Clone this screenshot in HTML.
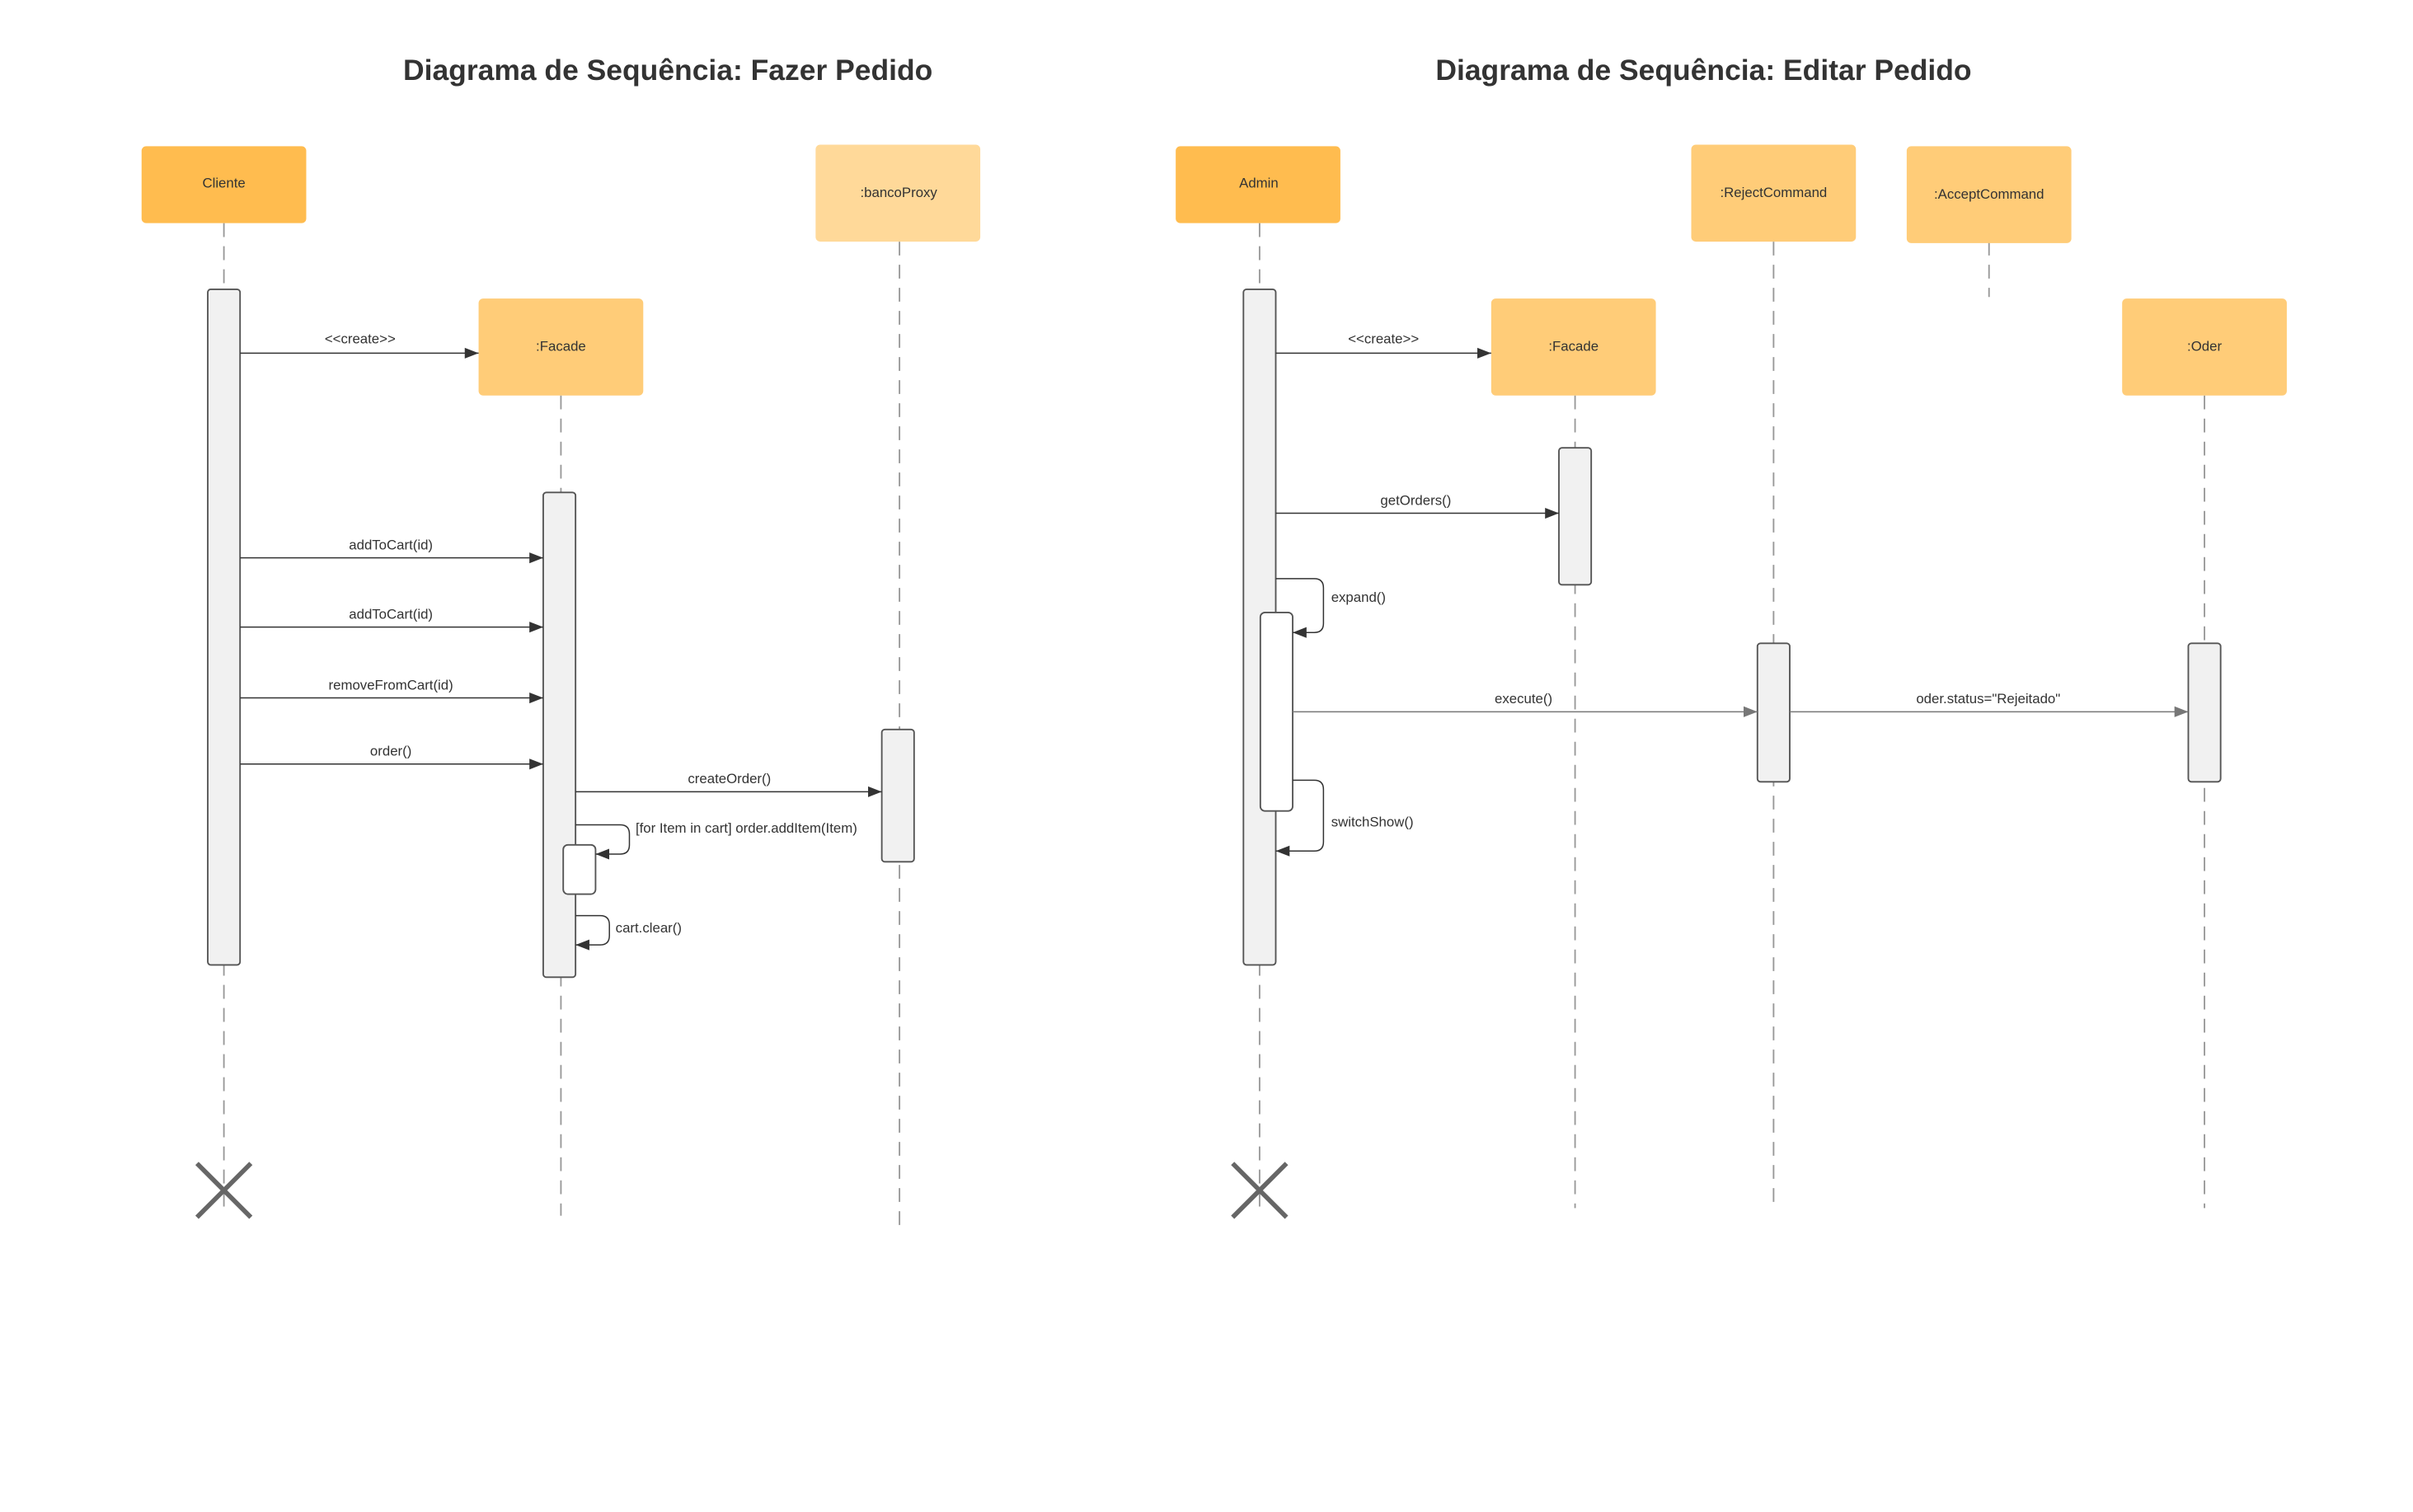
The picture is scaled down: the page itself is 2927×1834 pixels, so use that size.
<!DOCTYPE html>
<html><head><meta charset="utf-8"><style>
html,body{margin:0;padding:0;background:#fff;}
svg{display:block;}
text{font-family:"Liberation Sans",sans-serif;fill:#333;}
</style></head><body>
<svg width="2927" height="1834" viewBox="0 0 1568 982.5" preserveAspectRatio="none" xmlns="http://www.w3.org/2000/svg">
<defs>
<marker id="a" markerWidth="10" markerHeight="8" refX="9" refY="4" orient="auto" markerUnits="userSpaceOnUse"><path d="M0,0.5 L9,4 L0,7.5z" fill="#333"/></marker>
<marker id="g" markerWidth="10" markerHeight="8" refX="9" refY="4" orient="auto" markerUnits="userSpaceOnUse"><path d="M0,0.5 L9,4 L0,7.5z" fill="#777"/></marker>
</defs>
<rect width="1568" height="982.5" fill="#fff"/>
<text x="434" y="52" font-size="19" font-weight="bold" text-anchor="middle">Diagrama de Sequência: Fazer Pedido</text>
<text x="1107" y="52" font-size="19" font-weight="bold" text-anchor="middle">Diagrama de Sequência: Editar Pedido</text>

<g stroke="#999" stroke-width="1" stroke-dasharray="9,6" fill="none">
<line x1="145.5" y1="145" x2="145.5" y2="790"/>
<line x1="364.5" y1="257" x2="364.5" y2="790"/>
<line x1="584.5" y1="157" x2="584.5" y2="797"/>
<line x1="818.5" y1="145" x2="818.5" y2="790"/>
<line x1="1023.5" y1="257" x2="1023.5" y2="785"/>
<line x1="1152.5" y1="157" x2="1152.5" y2="785"/>
<line x1="1292.5" y1="157" x2="1292.5" y2="193"/>
<line x1="1432.5" y1="257" x2="1432.5" y2="785"/>
</g>

<g font-size="9" text-anchor="middle">
<rect x="92" y="95" width="107" height="50" rx="3" fill="#FFBC4F"/><text x="145.5" y="122">Cliente</text>
<rect x="530" y="94" width="107" height="63" rx="3" fill="#FFD999"/><text x="584" y="128">:bancoProxy</text>
<rect x="311" y="194" width="107" height="63" rx="3" fill="#FFCC78"/><text x="364.5" y="228">:Facade</text>
<rect x="764" y="95" width="107" height="50" rx="3" fill="#FFBC4F"/><text x="818" y="122">Admin</text>
<rect x="1099" y="94" width="107" height="63" rx="3" fill="#FFCC78"/><text x="1152.5" y="128">:RejectCommand</text>
<rect x="1239" y="95" width="107" height="63" rx="3" fill="#FFCC78"/><text x="1292.5" y="129">:AcceptCommand</text>
<rect x="969" y="194" width="107" height="63" rx="3" fill="#FFCC78"/><text x="1022.5" y="228">:Facade</text>
<rect x="1379" y="194" width="107" height="63" rx="3" fill="#FFCC78"/><text x="1432.5" y="228">:Oder</text>
</g>

<g stroke="#555" stroke-width="1" fill="#f1f1f1">
<rect x="135" y="188" width="21" height="439" rx="2"/>
<rect x="353" y="320" width="21" height="315" rx="2"/>
<rect x="573" y="474" width="21" height="86" rx="2"/>
<rect x="366" y="549" width="21" height="32" rx="3" fill="#fff"/>
<rect x="808" y="188" width="21" height="439" rx="2"/>
<rect x="819" y="398" width="21" height="129" rx="3" fill="#fff"/>
<rect x="1013" y="291" width="21" height="89" rx="2"/>
<rect x="1142" y="418" width="21" height="90" rx="2"/>
<rect x="1422" y="418" width="21" height="90" rx="2"/>
</g>

<g stroke="#333" stroke-width="0.8" fill="none" marker-end="url(#a)">
<line x1="156" y1="229.5" x2="311" y2="229.5"/>
<line x1="156" y1="362.5" x2="353" y2="362.5"/>
<line x1="156" y1="407.5" x2="353" y2="407.5"/>
<line x1="156" y1="453.5" x2="353" y2="453.5"/>
<line x1="156" y1="496.5" x2="353" y2="496.5"/>
<line x1="374" y1="514.5" x2="573" y2="514.5"/>
<path d="M374,536 H403 Q409,536 409,542 V549 Q409,555 403,555 H387"/>
<path d="M374,595 H390 Q396,595 396,601 V608 Q396,614 390,614 H374"/>
<line x1="829" y1="229.5" x2="969" y2="229.5"/>
<line x1="829" y1="333.5" x2="1013" y2="333.5"/>
<path d="M829,376 H854 Q860,376 860,382 V405 Q860,411 854,411 H840"/>
<path d="M840,507 H854 Q860,507 860,513 V547 Q860,553 854,553 H829"/>
</g>
<g stroke="#777" stroke-width="0.8" fill="none" marker-end="url(#g)">
<line x1="840" y1="462.5" x2="1142" y2="462.5"/>
<line x1="1163" y1="462.5" x2="1422" y2="462.5"/>
</g>

<g font-size="9" text-anchor="middle">
<text x="234" y="223">&lt;&lt;create&gt;&gt;</text>
<text x="254" y="357">addToCart(id)</text>
<text x="254" y="402">addToCart(id)</text>
<text x="254" y="448">removeFromCart(id)</text>
<text x="254" y="491">order()</text>
<text x="474" y="509">createOrder()</text>
<text x="899" y="223">&lt;&lt;create&gt;&gt;</text>
<text x="920" y="328">getOrders()</text>
<text x="990" y="457">execute()</text>
<text x="1292" y="457">oder.status="Rejeitado"</text>
</g>
<g font-size="9">
<text x="413" y="541">[for Item in cart] order.addItem(Item)</text>
<text x="400" y="606">cart.clear()</text>
<text x="865" y="391">expand()</text>
<text x="865" y="537">switchShow()</text>
</g>

<g stroke="#666" stroke-width="3">
<line x1="128" y1="756" x2="163" y2="791"/><line x1="163" y1="756" x2="128" y2="791"/>
<line x1="801" y1="756" x2="836" y2="791"/><line x1="836" y1="756" x2="801" y2="791"/>
</g>
</svg>
</body></html>
